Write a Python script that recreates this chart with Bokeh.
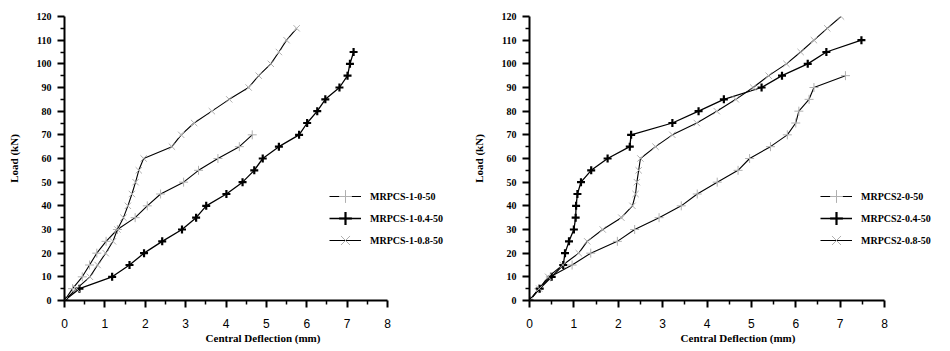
from bokeh.plotting import figure
from bokeh.layouts import row
from bokeh.models import FixedTicker, Legend, LegendItem, Range1d
from bokeh.embed import file_html
from bokeh.resources import INLINE

# ---------------- data ----------------
# Left chart (MRPCS-1 series)
left_x_0 = [0, 0.2, 0.44, 0.62, 0.8, 1.03, 1.31, 1.75, 2.05, 2.38, 2.95, 3.32, 3.8, 4.33, 4.65]
left_y_0 = [0, 5, 10, 15, 20, 25, 30, 35, 40, 45, 50, 55, 60, 65, 70]

left_x_04 = [0, 0.37, 1.18, 1.61, 1.97, 2.42, 2.91, 3.26, 3.51, 4.01, 4.41, 4.7, 4.91, 5.31,
             5.81, 6.01, 6.26, 6.46, 6.81, 7.01, 7.07, 7.16]
left_y_04 = [0, 5, 10, 15, 20, 25, 30, 35, 40, 45, 50, 55, 60, 65, 70, 75, 80, 85, 90, 95, 100, 105]

left_x_08 = [0, 0.3, 0.63, 0.82, 1.02, 1.2, 1.31, 1.46, 1.57, 1.67, 1.76, 1.84, 1.96, 2.66,
             2.89, 3.21, 3.65, 4.08, 4.56, 4.81, 5.11, 5.31, 5.5, 5.75]
left_y_08 = [0, 5, 10, 15, 20, 25, 30, 35, 40, 45, 50, 55, 60, 65, 70, 75, 80, 85, 90, 95, 100,
             105, 110, 115]

# Right chart (MRPCS2 series)
right_x_0 = [0, 0.21, 0.47, 0.96, 1.38, 1.98, 2.37, 2.92, 3.42, 3.78, 4.23, 4.7, 4.96, 5.43,
             5.81, 6.0, 6.07, 6.3, 6.41, 7.12]
right_y_0 = [0, 5, 10, 15, 20, 25, 30, 35, 40, 45, 50, 55, 60, 65, 70, 75, 80, 85, 90, 95]

right_x_04 = [0, 0.23, 0.5, 0.76, 0.8, 0.89, 1.0, 1.04, 1.05, 1.08, 1.16, 1.39, 1.76, 2.26,
              2.29, 3.22, 3.81, 4.38, 5.23, 5.69, 6.27, 6.69, 7.48]
right_y_04 = [0, 5, 10, 15, 20, 25, 30, 35, 40, 45, 50, 55, 60, 65, 70, 75, 80, 85, 90, 95, 100,
              105, 110]

right_x_08 = [0, 0.22, 0.42, 0.75, 1.11, 1.3, 1.65, 2.07, 2.32, 2.39, 2.42, 2.46, 2.5, 2.84,
              3.22, 3.77, 4.22, 4.65, 5.04, 5.39, 5.79, 6.11, 6.41, 6.71, 7.02]
right_y_08 = [0, 5, 10, 15, 20, 25, 30, 35, 40, 45, 50, 55, 60, 65, 70, 75, 80, 85, 90, 95, 100,
              105, 110, 115, 120]

x_ticks = [0, 1, 2, 3, 4, 5, 6, 7, 8]
x_minor = [0.5, 1.5, 2.5, 3.5, 4.5, 5.5, 6.5, 7.5]
y_ticks = [0, 10, 20, 30, 40, 50, 60, 70, 80, 90, 100, 110, 120]
y_minor = [5, 15, 25, 35, 45, 55, 65, 75, 85, 95, 105, 115]

left_labels = ["MRPCS-1-0-50", "MRPCS-1-0.4-50", "MRPCS-1-0.8-50"]
right_labels = ["MRPCS2-0-50", "MRPCS2-0.4-50", "MRPCS2-0.8-50"]

SERIF = "Liberation Serif"
SANS = "Liberation Sans"


def make_chart(width, axis_px, series, labels, legend_x):
    # frame spans to the right edge so the legend is not clipped;
    # the x axis itself is drawn only from 0 to 8
    frame_w = width - 64 - 4
    x_end = 8.0 * frame_w / axis_px
    p = figure(width=width, height=351, output_backend="svg", toolbar_location=None,
               x_range=Range1d(0, x_end), y_range=Range1d(0, 120),
               min_border_left=64, min_border_right=4,
               min_border_top=16, min_border_bottom=51)
    p.outline_line_color = None
    p.xgrid.visible = False
    p.ygrid.visible = False
    p.background_fill_color = "white"
    p.border_fill_color = "white"

    p.xaxis.ticker = FixedTicker(ticks=x_ticks, minor_ticks=x_minor)
    p.yaxis.ticker = FixedTicker(ticks=y_ticks, minor_ticks=y_minor)
    p.xaxis.bounds = (0, 8)
    for ax in (p.xaxis, p.yaxis):
        ax.axis_line_width = 2
        ax.axis_line_color = "black"
        ax.major_tick_line_width = 2
        ax.minor_tick_line_width = 1.5
        ax.major_tick_line_color = "black"
        ax.minor_tick_line_color = "black"
        ax.major_tick_in = 0
        ax.minor_tick_in = 0
        ax.major_tick_out = 7
        ax.minor_tick_out = 4
        ax.axis_label_text_font = SERIF
        ax.axis_label_text_font_style = "bold"
        ax.axis_label_text_font_size = "11px"
        ax.axis_label_text_color = "black"
        ax.major_label_text_color = "black"

    p.xaxis.major_label_text_font = SANS
    p.xaxis.major_label_text_font_size = "12px"
    p.xaxis.major_label_standoff = 11
    p.xaxis.axis_label = "Central Deflection (mm)"
    p.xaxis.axis_label_standoff = 1

    p.yaxis.major_label_text_font = SERIF
    p.yaxis.major_label_text_font_style = "bold"
    p.yaxis.major_label_text_font_size = "10px"
    p.yaxis.major_label_standoff = 6
    p.yaxis.axis_label = "Load (kN)"
    p.yaxis.axis_label_standoff = 14

    items = []
    (x0, y0), (x4, y4), (x8, y8) = series
    l0 = p.line(x0, y0, line_color="black", line_width=1.1)
    m0 = p.scatter(x0, y0, marker="cross", size=9, line_color="#b0b0b0", line_width=1)
    items.append(LegendItem(label=labels[0], renderers=[l0, m0]))
    l4 = p.line(x4, y4, line_color="black", line_width=1.3)
    m4 = p.scatter(x4, y4, marker="cross", size=8, line_color="black", line_width=2.2)
    items.append(LegendItem(label=labels[1], renderers=[l4, m4]))
    l8 = p.line(x8, y8, line_color="black", line_width=1.1)
    m8 = p.scatter(x8, y8, marker="x", size=9, line_color="#b0b0b0", line_width=1)
    items.append(LegendItem(label=labels[2], renderers=[l8, m8]))

    # one legend per entry: tall glyph boxes give larger legend markers
    # while keeping the 22px row pitch of the reference
    for i, item in enumerate(items):
        legend = Legend(items=[item], location=(legend_x, 87 - 22 * i))
        legend.background_fill_alpha = 0
        legend.border_line_color = None
        legend.padding = 0
        legend.margin = 0
        legend.spacing = 0
        legend.glyph_width = 32
        legend.glyph_height = 34
        legend.label_height = 34
        legend.label_standoff = 9
        legend.label_text_font = SERIF
        legend.label_text_font_style = "bold"
        legend.label_text_font_size = "10px"
        legend.label_text_color = "black"
        p.add_layout(legend, "center")
    return p


left = make_chart(465, 323, [(left_x_0, left_y_0), (left_x_04, left_y_04), (left_x_08, left_y_08)],
                  left_labels, 265)
right = make_chart(485, 355, [(right_x_0, right_y_0), (right_x_04, right_y_04), (right_x_08, right_y_08)],
                   right_labels, 291)

layout = row(left, right)
open("out.html", "w").write(file_html(layout, INLINE))
